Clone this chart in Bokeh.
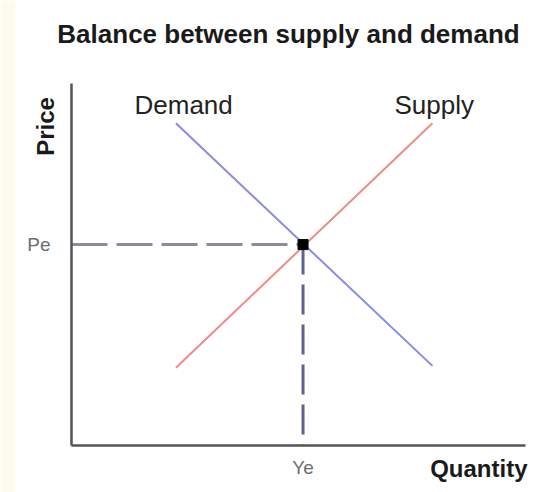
import math
from bokeh.plotting import figure
from bokeh.models import Range1d, FixedTicker, Label, BoxAnnotation
from bokeh.embed import file_html
from bokeh.resources import INLINE

# ---- data (quantity on x, price on y, arbitrary units 0..10) ----
demand_q = [2.3, 7.95]
demand_p = [8.9, 2.2]
supply_q = [2.3, 7.95]
supply_p = [2.15, 8.9]
eq_q = 5.1
eq_p = 5.55
axis_max = 10
price_tick_label = "Pe"
quantity_tick_label = "Ye"
title_text = "Balance between supply and demand"
demand_label = "Demand"
supply_label = "Supply"
x_axis_title = "Quantity"
y_axis_title = "Price"

FONT = "Liberation Sans"
W, H = 533, 492
# layout: where the axes' origin and ends sit on the canvas (pixels)
AX_LEFT, AX_RIGHT, AX_BOTTOM, AX_TOP = 71, 525, 445, 83
sx = (AX_RIGHT - AX_LEFT) / axis_max
sy = (AX_BOTTOM - AX_TOP) / axis_max

p = figure(width=W, height=H, output_backend="svg", toolbar_location=None,
           x_range=Range1d(-AX_LEFT / sx, (W - AX_LEFT) / sx),
           y_range=Range1d(-(H - AX_BOTTOM) / sy, AX_BOTTOM / sy),
           min_border=0, min_border_left=0, min_border_right=0,
           min_border_top=0, min_border_bottom=0)
p.outline_line_color = None
p.xgrid.visible = False
p.ygrid.visible = False
p.background_fill_color = "white"
p.border_fill_color = "white"

# pale strip at the left edge
p.add_layout(BoxAnnotation(left=0, right=15, left_units="screen", right_units="screen",
                           fill_color="#fdfbee", fill_alpha=1, line_color=None, level="underlay"))

for ax in (p.xaxis[0], p.yaxis[0]):
    ax.fixed_location = 0
    ax.bounds = (0, axis_max)
    ax.axis_line_color = "#555555"
    ax.axis_line_width = 2.5
    ax.major_tick_line_color = None
    ax.minor_tick_line_color = None
    ax.major_tick_out = 0
    ax.major_tick_in = 0
    ax.minor_tick_out = 0
    ax.minor_tick_in = 0
    ax.major_label_text_color = "#6e6e6e"
    ax.major_label_text_font = FONT
    ax.major_label_text_font_size = "19px"

p.yaxis[0].ticker = FixedTicker(ticks=[eq_p])
p.yaxis[0].major_label_overrides = {eq_p: price_tick_label}
p.yaxis[0].major_label_standoff = 21
p.xaxis[0].ticker = FixedTicker(ticks=[eq_q])
p.xaxis[0].major_label_overrides = {eq_q: quantity_tick_label}
p.xaxis[0].major_label_standoff = 11

# dashed guide lines
p.line([0, eq_q], [eq_p, eq_p], line_color="#8c8c9e", line_width=3, line_dash="36 9")
p.line([eq_q, eq_q], [eq_p, 0], line_color="#626290", line_width=3, line_dash="30 10")

# curves
p.line(demand_q, demand_p, line_color="#8a8ae8", line_width=2)
p.line(supply_q, supply_p, line_color="#f08a8a", line_width=2)

# equilibrium point
p.scatter([eq_q], [eq_p], marker="square", size=10, fill_color="black", line_color="black")

# texts (screen units: from the canvas bottom-left corner)
p.add_layout(Label(x=288, y=H - 33, x_units="screen", y_units="screen", text=title_text,
                   text_font=FONT, text_font_size="26px", text_font_style="bold",
                   text_color="#1a1a1a", text_align="center", text_baseline="alphabetic"))
p.add_layout(Label(x=134, y=H - 104, x_units="screen", y_units="screen", text=demand_label,
                   text_font=FONT, text_font_size="26px",
                   text_color="#222222", text_align="left", text_baseline="alphabetic"))
p.add_layout(Label(x=394, y=H - 104, x_units="screen", y_units="screen", text=supply_label,
                   text_font=FONT, text_font_size="26px",
                   text_color="#222222", text_align="left", text_baseline="alphabetic"))
p.add_layout(Label(x=45, y=H - 126, x_units="screen", y_units="screen", text=y_axis_title,
                   angle=math.pi / 2,
                   text_font=FONT, text_font_size="24px", text_font_style="bold",
                   text_color="#1a1a1a", text_align="center", text_baseline="middle"))
p.add_layout(Label(x=527, y=H - 468, x_units="screen", y_units="screen", text=x_axis_title,
                   text_font=FONT, text_font_size="24px", text_font_style="bold",
                   text_color="#1a1a1a", text_align="right", text_baseline="alphabetic"))

open("out.html", "w").write(file_html(p, INLINE))
